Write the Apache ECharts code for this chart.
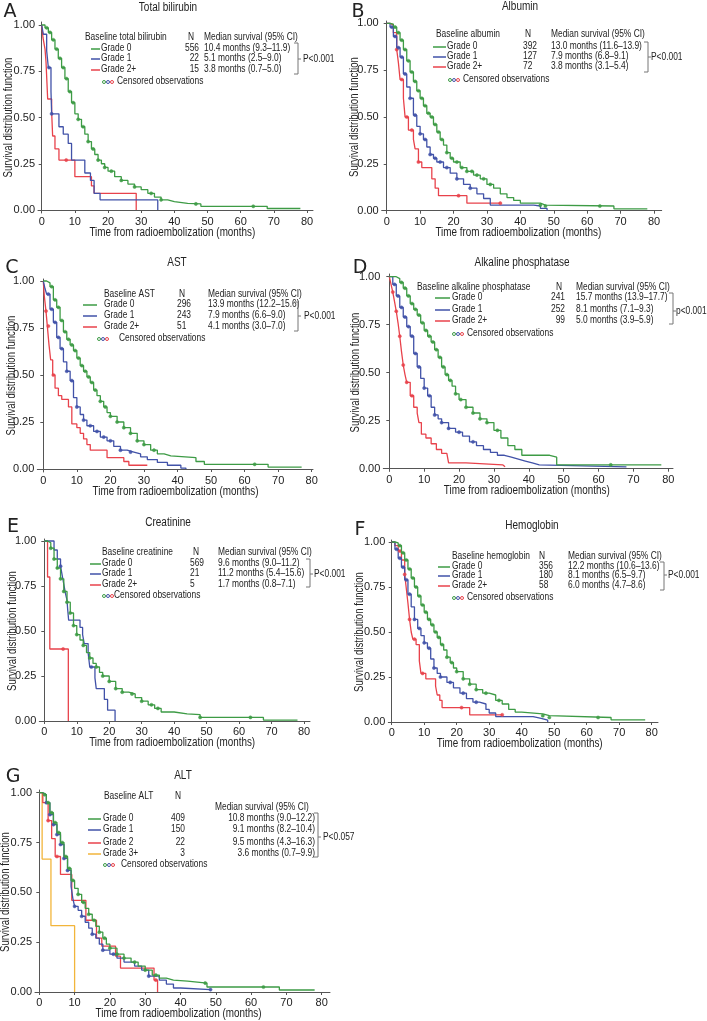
<!DOCTYPE html>
<html>
<head>
    <meta charset="utf-8">
    <title>Survival by baseline lab grade</title>
    <script src="https://cdn.jsdelivr.net/npm/echarts@6/dist/echarts.min.js"></script>
    <style>
        html, body { margin: 0; padding: 0; background: #fff; }
    </style>
</head>
<body>
    <div id="main" style="width: 707px;height:1021px;"></div>
    <script type="text/javascript">
        // 刻度
        var xTicks = [0, 10, 20, 30, 40, 50, 60, 70, 80];
        var yTicks = [0, 0.25, 0.5, 0.75, 1];
        var xName = 'Time from radioembolization (months)';
        var yName = 'Survival distribution function';
        var censorLabel = 'Censored observations';

        // A: Total bilirubin
        var aTitle = 'Total bilirubin';
        var aHeader = ['Baseline total bilirubin', 'N', 'Median survival (95% CI)'];
        var aGrades = ['Grade 0', 'Grade 1', 'Grade 2+'];
        var aN = ['556', '22', '15'];
        var aMedian = ['10.4 months (9.3–11.9)', '5.1 months (2.5–9.0)', '3.8 months (0.7–5.0)'];
        var aP = 'P<0.001';
        var aGrade0 = [[0,1],[1,0.985],[2,0.96],[3,0.92],[4,0.87],[5,0.82],[6,0.77],[7,0.71],[8,0.64],[9,0.58],[10,0.52],[11,0.49],[12,0.45],[13,0.41],[14,0.37],[15,0.33],[16,0.3],[17,0.27],[18,0.25],[19,0.23],[20,0.21],[22,0.18],[24,0.16],[26,0.14],[28,0.125],[30,0.11],[32,0.09],[34,0.07],[36,0.055],[38,0.045],[40,0.036],[44,0.033],[48,0.02],[68,0.008],[78,0.008]];
        var aGrade1 = [[0,1],[0.5,0.95],[1.5,0.86],[2,0.77],[2.8,0.64],[3,0.52],[5.2,0.45],[6.5,0.41],[8,0.36],[9,0.27],[13,0.2],[14.7,0.16],[15.8,0.09],[17.6,0.055],[35,0]];
        var aGrade2 = [[0,1],[0.4,0.93],[1,0.87],[1.3,0.8],[1.8,0.6],[3,0.53],[3.3,0.4],[4,0.33],[5.2,0.27],[10,0.18],[15,0.13],[15.8,0.09],[28.5,0]];
        var aCensor0 = [1.5, 2.5, 3.5, 4.5, 5.5, 6.5, 7.5, 8.5, 9.5, 11, 12.5, 14, 15.5, 17, 19, 21, 24, 28, 33, 36, 46.5, 63.8];
        var aCensor1 = [2.2, 3];
        var aCensor2 = [7.4];

        // B: Albumin
        var bTitle = 'Albumin';
        var bHeader = ['Baseline albumin', 'N', 'Median survival (95% CI)'];
        var bGrades = ['Grade 0', 'Grade 1', 'Grade 2+'];
        var bN = ['392', '127', '72'];
        var bMedian = ['13.0 months (11.6–13.9)', '7.9 months (6.8–9.1)', '3.8 months (3.1–5.4)'];
        var bP = 'P<0.001';
        var bGrade0 = [[0,1],[1,0.995],[2,0.98],[3,0.95],[4,0.91],[5,0.86],[6,0.8],[7,0.74],[8,0.69],[9,0.64],[10,0.6],[11,0.56],[12,0.52],[13,0.5],[14,0.46],[15,0.42],[16,0.38],[17,0.35],[18,0.31],[19,0.28],[20,0.26],[22,0.23],[24,0.21],[26,0.19],[28,0.17],[30,0.14],[32,0.12],[34,0.09],[36,0.07],[38,0.055],[40,0.04],[46,0.03],[47.5,0.025],[68,0.01],[78,0.01]];
        var bGrade1 = [[0,1],[1,0.98],[2,0.93],[3,0.87],[4,0.82],[5,0.73],[6,0.66],[7,0.6],[8,0.51],[9,0.45],[10,0.41],[11,0.38],[12,0.34],[13,0.3],[14,0.28],[15,0.26],[17,0.23],[19,0.2],[21,0.17],[23,0.14],[25,0.12],[27,0.09],[29,0.065],[31,0.03],[44,0.025],[46,0.012],[48,0]];
        var bGrade2 = [[0,1],[1,0.99],[2,0.95],[3,0.86],[3.5,0.79],[4,0.7],[5,0.6],[5.5,0.5],[6.5,0.43],[8,0.38],[8.5,0.33],[9.5,0.26],[10.5,0.23],[13.5,0.17],[14.5,0.12],[15.5,0.08],[24,0.04],[34,0.04]];
        var bCensor0 = [2.5, 3.5, 4.5, 5.5, 6.5, 7.5, 8.5, 9.5, 10.5, 11.5, 12.5, 13.5, 14.5, 15.5, 16.5, 18, 19.5, 21, 22.5, 24, 25.5, 27, 29, 31, 46, 47.5, 63.8];
        var bCensor1 = [1.5, 2.5, 3.5, 4.5, 5.5, 7, 8.5, 10, 11.5, 13, 14.5, 16, 18, 21, 25];
        var bCensor2 = [3, 4.5, 6, 7.5, 9.5, 21.5, 34];

        // C: AST
        var cTitle = 'AST';
        var cHeader = ['Baseline AST', 'N', 'Median survival (95% CI)'];
        var cGrades = ['Grade 0', 'Grade 1', 'Grade 2+'];
        var cN = ['296', '243', '51'];
        var cMedian = ['13.9 months (12.2–15.6)', '7.9 months (6.6–9.0)', '4.1 months (3.0–7.0)'];
        var cP = 'P<0.001';
        var cGrade0 = [[0,1],[1,0.99],[2,0.97],[3,0.9],[4,0.86],[5,0.79],[6,0.73],[7,0.69],[8,0.66],[9,0.63],[10,0.59],[11,0.55],[12,0.52],[13,0.49],[14,0.46],[15,0.42],[16,0.39],[17,0.36],[18,0.33],[19,0.3],[20,0.28],[22,0.25],[24,0.22],[26,0.19],[28,0.15],[30,0.13],[32,0.1],[34,0.08],[36,0.07],[38,0.06],[45.5,0.04],[48,0.025],[67,0.01],[77,0.01]];
        var cGrade1 = [[0,1],[0.5,0.96],[1,0.93],[2,0.85],[3,0.78],[4,0.7],[5,0.64],[6,0.57],[7,0.52],[8,0.47],[9,0.38],[10,0.33],[11,0.29],[12,0.26],[13,0.23],[15,0.2],[17,0.17],[19,0.15],[21,0.12],[23,0.1],[25,0.09],[27,0.08],[29,0.065],[31,0.05],[34,0.035],[37,0.02],[41,0.005],[42.5,0]];
        var cGrade2 = [[0,1],[0.3,0.92],[0.8,0.84],[1.2,0.76],[1.7,0.66],[2.2,0.58],[2.8,0.5],[3.5,0.43],[4.5,0.39],[5.5,0.37],[7.5,0.33],[8.5,0.24],[10,0.22],[11,0.19],[12,0.16],[13,0.13],[14,0.1],[19,0.06],[24,0.04],[25.5,0.02],[31,0.02]];
        var cCensor0 = [2.5, 3.5, 4.5, 5.5, 6.5, 7.5, 8.5, 9.5, 10.5, 11.5, 12.5, 13.5, 14.5, 15.5, 17, 18.5, 20, 22, 24, 26, 28, 30, 33, 63];
        var cCensor1 = [1.5, 2.5, 3.5, 4.5, 5.5, 7, 8.5, 10, 12, 14, 16, 18, 20, 23, 26];
        var cCensor2 = [0.8, 1.5, 3];

        // D: Alkaline phosphatase
        var dTitle = 'Alkaline phosphatase';
        var dHeader = ['Baseline alkaline phosphatase', 'N', 'Median survival (95% CI)'];
        var dGrades = ['Grade 0', 'Grade 1', 'Grade 2+'];
        var dN = ['241', '252', '99'];
        var dMedian = ['15.7 months (13.9–17.7)', '8.1 months (7.1–9.3)', '5.0 months (3.9–5.9)'];
        var dP = 'p<0.001';
        var dGrade0 = [[0,1],[1,1],[2,0.99],[3,0.97],[4,0.94],[5,0.9],[6,0.86],[7,0.83],[8,0.8],[9,0.76],[10,0.72],[11,0.69],[12,0.66],[13,0.62],[14,0.58],[15,0.53],[16,0.49],[17,0.46],[18,0.43],[19,0.39],[20,0.36],[22,0.32],[24,0.29],[26,0.26],[28,0.24],[30,0.2],[32,0.16],[34,0.12],[36,0.1],[38,0.07],[46,0.06],[48,0.02],[78,0.02]];
        var dGrade1 = [[0,1],[1,0.96],[2,0.9],[3,0.84],[4,0.79],[5,0.74],[6,0.69],[7,0.6],[8,0.53],[9,0.47],[10,0.42],[11,0.38],[12,0.32],[13,0.28],[14,0.26],[15,0.24],[17,0.21],[19,0.19],[21,0.17],[23,0.14],[25,0.12],[27,0.1],[29,0.085],[31,0.07],[33,0.06],[35,0.05],[37,0.04],[39,0.03],[41,0.02],[43,0.01],[68,0.01]];
        var dGrade2 = [[0,1],[0.5,0.96],[1,0.92],[1.5,0.87],[2,0.82],[2.5,0.76],[3,0.69],[3.5,0.61],[4,0.54],[4.5,0.49],[5,0.45],[6,0.38],[7,0.32],[8,0.29],[8.5,0.24],[9.2,0.18],[10.5,0.16],[12,0.13],[13.5,0.1],[15,0.08],[16.5,0.07],[17,0.03],[22,0.02],[32.5,0.01],[33.2,0.01]];
        var dCensor0 = [3.5, 4.5, 5.5, 6.5, 7.5, 8.5, 9.5, 10.5, 11.5, 12.5, 13.5, 14.5, 15.5, 16.5, 17.5, 19, 20.5, 22, 24, 26, 28, 31, 63.5];
        var dCensor1 = [1.5, 2.5, 3.5, 4.5, 5.5, 6.5, 7.5, 8.5, 10, 11.5, 13, 15, 17, 20, 24];
        var dCensor2 = [1, 2, 3, 4, 5, 6.5];

        // E: Creatinine
        var eTitle = 'Creatinine';
        var eHeader = ['Baseline creatinine', 'N', 'Median survival (95% CI)'];
        var eGrades = ['Grade 0', 'Grade 1', 'Grade 2+'];
        var eN = ['569', '21', '5'];
        var eMedian = ['9.6 months (9.0–11.2)', '11.2 months (5.4–15.6)', '1.7 months (0.8–7.1)'];
        var eP = 'P<0.001';
        var eGrade0 = [[0,1],[1,0.99],[2,0.96],[3,0.9],[4,0.85],[5,0.79],[6,0.72],[7,0.66],[8,0.6],[9,0.53],[10,0.48],[11,0.45],[12,0.42],[13,0.38],[14,0.35],[15,0.32],[16,0.3],[17,0.27],[18,0.25],[20,0.22],[22,0.18],[24,0.16],[26,0.15],[28,0.13],[30,0.11],[32,0.09],[34,0.07],[36,0.05],[40,0.04],[44,0.035],[48,0.02],[67.5,0.005],[78,0.005]];
        var eGrade1 = [[0,1],[3,0.95],[4,0.9],[5,0.86],[5.5,0.81],[6,0.76],[6.5,0.71],[7,0.67],[7.2,0.62],[7.5,0.56],[11,0.52],[11.8,0.48],[12.3,0.43],[13.5,0.38],[14,0.3],[15.6,0.24],[16,0.18],[18.5,0.12],[19.5,0.06],[21.8,0]];
        var eGrade2 = [[0,1],[1,0.8],[1.7,0.4],[7.4,0]];
        var eCensor0 = [2, 3, 4, 5, 6, 7, 8, 9, 10, 12, 14, 16, 18, 20, 22, 24, 27, 30, 33, 35, 48, 63.5];
        var eCensor1 = [5, 14.5];
        var eCensor2 = [5.8];

        // F: Hemoglobin
        var fTitle = 'Hemoglobin';
        var fHeader = ['Baseline hemoglobin', 'N', 'Median survival (95% CI)'];
        var fGrades = ['Grade 0', 'Grade 1', 'Grade 2+'];
        var fN = ['356', '180', '58'];
        var fMedian = ['12.2 months (10.6–13.6)', '8.1 months (6.5–9.7)', '6.0 months (4.7–8.6)'];
        var fP = 'P<0.001';
        var fGrade0 = [[0,1],[1,0.995],[2,0.98],[3,0.94],[4,0.9],[5,0.85],[6,0.8],[7,0.75],[8,0.7],[9,0.65],[10,0.61],[11,0.57],[12,0.54],[13,0.5],[14,0.47],[15,0.43],[16,0.4],[17,0.36],[18,0.33],[19,0.3],[20,0.28],[22,0.24],[24,0.21],[26,0.18],[28,0.16],[30,0.15],[32,0.12],[34,0.1],[36,0.07],[38,0.055],[40,0.045],[46.5,0.035],[48.5,0.025],[67.5,0.012],[78,0.012]];
        var fGrade1 = [[0,1],[1,0.96],[2,0.91],[3,0.86],[4,0.79],[5,0.71],[6,0.64],[7,0.57],[8,0.52],[9,0.48],[10,0.44],[11,0.41],[12,0.35],[13,0.3],[14,0.27],[15,0.25],[17,0.22],[19,0.19],[21,0.16],[23,0.13],[25,0.11],[27,0.1],[29,0.07],[30,0.05],[32,0.03],[43.5,0.02],[46,0.01],[48,0]];
        var fGrade2 = [[0,1],[1,0.98],[2,0.95],[3,0.9],[4,0.82],[4.5,0.74],[5,0.66],[5.5,0.57],[6,0.5],[6.5,0.46],[7.5,0.43],[8.5,0.34],[9,0.27],[10.5,0.24],[13.5,0.2],[14,0.15],[14.8,0.12],[15.5,0.08],[24,0.04],[34,0.04]];
        var fCensor0 = [2.5, 3.5, 4.5, 5.5, 6.5, 7.5, 8.5, 9.5, 10.5, 11.5, 12.5, 13.5, 14.5, 15.5, 17, 18.5, 20, 22, 24, 26, 29, 33, 46.5, 48.5, 63.5];
        var fCensor1 = [1.5, 2.5, 3.5, 4.5, 5.5, 7, 8.5, 10, 11.5, 13, 15, 18, 22, 26];
        var fCensor2 = [2.5, 4, 5.5, 7, 9.5, 21.5, 34];

        // G: ALT
        var gTitle = 'ALT';
        var gHeader = ['Baseline ALT', 'N', 'Median survival (95% CI)'];
        var gGrades = ['Grade 0', 'Grade 1', 'Grade 2', 'Grade 3+'];
        var gN = ['409', '150', '22', '3'];
        var gMedian = ['10.8 months (9.0–12.2)', '9.1 months (8.2–10.4)', '9.5 months (4.3–16.3)', '3.6 months (0.7–9.9)'];
        var gP = 'P<0.057';
        var gGrade0 = [[0,1],[1,0.99],[2,0.95],[3,0.9],[4,0.85],[5,0.8],[6,0.75],[7,0.68],[8,0.62],[9,0.56],[10,0.52],[11,0.49],[12,0.45],[13,0.42],[14,0.39],[15,0.36],[16,0.33],[17,0.3],[18,0.27],[19,0.24],[20,0.22],[22,0.19],[24,0.17],[26,0.15],[28,0.13],[30,0.11],[32,0.085],[34,0.07],[36,0.06],[38,0.055],[42,0.045],[47.5,0.025],[68,0.01],[78,0.01]];
        var gGrade1 = [[0,1],[1,0.99],[2,0.95],[3,0.89],[4,0.84],[5,0.79],[6,0.74],[7,0.67],[8,0.61],[9,0.53],[9.5,0.47],[10,0.43],[11,0.41],[12,0.38],[13,0.35],[14,0.32],[15,0.29],[16,0.27],[17,0.24],[18,0.21],[20,0.19],[22,0.17],[24,0.15],[27,0.13],[29,0.11],[31,0.08],[34,0.06],[36,0.04],[38,0.02],[40,0.012],[48.5,0.012]];
        var gGrade2 = [[0,1],[1,0.95],[2.5,0.86],[3.5,0.77],[4.5,0.68],[6,0.59],[9.2,0.46],[13.2,0.36],[16.2,0.27],[17.7,0.23],[21.6,0.18],[23,0.12],[32.5,0.06],[33.5,0]];
        var gGrade3 = [[0,1],[0.8,0.667],[3.3,0.333],[10,0]];
        var gCensor0 = [1.5, 2.5, 3.5, 4.5, 5.5, 6.5, 7.5, 8.5, 9.5, 11, 12.5, 14, 15.5, 17, 18.5, 20, 22, 24, 27, 30, 33, 47, 63.5];
        var gCensor1 = [2, 3, 4, 5, 6, 7, 8, 10, 12, 15, 18, 21, 31, 48.5];
        var gCensor2 = [2.5, 5, 33];

        var GREEN = '#3d9b45', BLUE = '#4152a8', RED = '#e8424b', ORANGE = '#f2b53b';
        var FONT = '"Liberation Sans", Arial, sans-serif';
        var TXT = '#222';
        var NARROW = 0.8;   // 原图字体较窄

        // 每个面板的像素布局
        var panels = [
            { letter: 'A', lx: 10, ly: 12, title: aTitle, tx: 168, ty: 8,
              px: { x0: 41.7, x80: 307, y1: 25, y0: 210, left: 38, right: 313, top: 22, bottom: 213 }, ynx: 9,
              curves: [[aGrade0, aCensor0, GREEN], [aGrade1, aCensor1, BLUE], [aGrade2, aCensor2, RED]],
              header: aHeader, grades: aGrades, n: aN, median: aMedian, p: aP,
              lg: { hx: 85, hy: 37, nx: 191, nAlign: 'right', nvx: 199, mx: 204, mhx: 204, mhy: 37, mAlign: 'left', rows: [48, 58, 69],
                    l1: 91, l2: 100, gx: 101, bx: 298, bt: 43, bb: 74, ptx: 302, pty: 59, cx: 104, cy: 81, ctx: 117 } },
            { letter: 'B', lx: 358, ly: 12, title: bTitle, tx: 520, ty: 7,
              px: { x0: 386.7, x80: 654, y1: 23.3, y0: 210.7, left: 381.7, right: 661.7, top: 21, bottom: 213 }, ynx: 355,
              curves: [[bGrade0, bCensor0, GREEN], [bGrade1, bCensor1, BLUE], [bGrade2, bCensor2, RED]],
              header: bHeader, grades: bGrades, n: bN, median: bMedian, p: bP,
              lg: { hx: 436, hy: 34, nx: 528, nAlign: 'left', nvx: 523, mx: 551, mhx: 551, mhy: 34, mAlign: 'left', rows: [46, 56, 66],
                    l1: 433, l2: 446, gx: 447, bx: 648, bt: 42, bb: 72, ptx: 650, pty: 57, cx: 450, cy: 79, ctx: 463 } },
            { letter: 'C', lx: 12, ly: 268, title: cTitle, tx: 177, ty: 263,
              px: { x0: 43.3, x80: 311.7, y1: 281, y0: 469, left: 37.3, right: 313, top: 279, bottom: 472 }, ynx: 12,
              curves: [[cGrade0, cCensor0, GREEN], [cGrade1, cCensor1, BLUE], [cGrade2, cCensor2, RED]],
              header: cHeader, grades: cGrades, n: cN, median: cMedian, p: cP,
              lg: { hx: 104, hy: 294, nx: 182, nAlign: 'left', nvx: 177, mx: 208, mhx: 208, mhy: 294, mAlign: 'left', rows: [304, 315, 326],
                    l1: 83, l2: 97, gx: 104, bx: 298, bt: 302, bb: 331, ptx: 303, pty: 316, cx: 99, cy: 338, ctx: 119 } },
            { letter: 'D', lx: 360, ly: 268, title: dTitle, tx: 522, ty: 263,
              px: { x0: 389.3, x80: 668.3, y1: 276.7, y0: 468.7, left: 383.3, right: 673, top: 274, bottom: 471 }, ynx: 356,
              curves: [[dGrade0, dCensor0, GREEN], [dGrade1, dCensor1, BLUE], [dGrade2, dCensor2, RED]],
              header: dHeader, grades: dGrades, n: dN, median: dMedian, p: dP,
              lg: { hx: 417, hy: 287, nx: 559, nAlign: 'right', nvx: 565, mx: 576, mhx: 576, mhy: 287, mAlign: 'left', rows: [297, 309, 320],
                    l1: 435, l2: 450, gx: 452, bx: 673, bt: 293, bb: 324, ptx: 675, pty: 311, cx: 454, cy: 333, ctx: 467 } },
            { letter: 'E', lx: 13, ly: 527, title: eTitle, tx: 168, ty: 523,
              px: { x0: 44.3, x80: 304, y1: 541, y0: 721, left: 39.3, right: 310, top: 539, bottom: 723 }, ynx: 13,
              curves: [[eGrade0, eCensor0, GREEN], [eGrade1, eCensor1, BLUE], [eGrade2, eCensor2, RED]],
              header: eHeader, grades: eGrades, n: eN, median: eMedian, p: eP,
              lg: { hx: 102, hy: 552, nx: 196, nAlign: 'left', nvx: 190, mx: 218, mhx: 218, mhy: 552, mAlign: 'left', rows: [563, 573, 584],
                    l1: 90, l2: 101, gx: 102, bx: 310, bt: 559, bb: 587, ptx: 313, pty: 574, cx: 104, cy: 595, ctx: 114 } },
            { letter: 'F', lx: 360, ly: 530, title: fTitle, tx: 532, ty: 526,
              px: { x0: 391.7, x80: 651.7, y1: 542, y0: 722, left: 388.3, right: 658, top: 540, bottom: 724 }, ynx: 360,
              curves: [[fGrade0, fCensor0, GREEN], [fGrade1, fCensor1, BLUE], [fGrade2, fCensor2, RED]],
              header: fHeader, grades: fGrades, n: fN, median: fMedian, p: fP,
              lg: { hx: 452, hy: 556, nx: 542, nAlign: 'left', nvx: 539, mx: 568, mhx: 568, mhy: 556, mAlign: 'left', rows: [566, 575, 585],
                    l1: 438, l2: 450, gx: 452, bx: 664, bt: 562, bb: 590, ptx: 667, pty: 575, cx: 454, cy: 597, ctx: 467 } },
            { letter: 'G', lx: 13, ly: 777, title: gTitle, tx: 183, ty: 776,
              px: { x0: 39.3, x80: 321.7, y1: 792.7, y0: 992, left: 35, right: 330, top: 790, bottom: 994 }, ynx: 6,
              curves: [[gGrade0, gCensor0, GREEN], [gGrade1, gCensor1, BLUE], [gGrade2, gCensor2, RED], [gGrade3, [], ORANGE]],
              header: gHeader, grades: gGrades, n: gN, median: gMedian, p: gP,
              lg: { hx: 104, hy: 796, nx: 178, nAlign: 'right', nvx: 185, mx: 315, mhx: 215, mhy: 807, mAlign: 'right', rows: [818, 829, 842, 853],
                    l1: 88, l2: 101, gx: 103, bx: 318, bt: 813, bb: 857, ptx: 322, pty: 837, cx: 105, cy: 864, ctx: 121 } }
        ];

        // 在阶梯曲线上找出删失时间对应的生存率
        function survAt(curve, t) {
            var s = curve[0][1];
            for (var i = 0; i < curve.length; i++) {
                if (curve[i][0] <= t) s = curve[i][1];
            }
            return s;
        }

        // 文字：元素放在 (x, y)，横向压缩以接近原图的窄字体
        function txt(text, x, y, size, align, opts) {
            opts = opts || {};
            return {
                type: 'text', silent: true, x: x, y: y,
                rotation: opts.rotation || 0,
                scaleX: opts.scaleX == null ? NARROW : opts.scaleX,
                style: { text: text, x: 0, y: 0, font: opts.font || (size + 'px ' + FONT), fill: TXT,
                         align: align || 'left', verticalAlign: 'middle',
                         textAlign: align || 'left', textVerticalAlign: 'middle' }
            };
        }

        var grids = [], xAxes = [], yAxes = [], series = [], graphics = [];

        panels.forEach(function (p, idx) {
            var q = p.px;
            var sx = (q.x80 - q.x0) / 80;
            var sy = q.y0 - q.y1;
            grids.push({ left: q.left, top: q.top, width: q.right - q.left, height: q.bottom - q.top });
            xAxes.push({
                type: 'value', gridIndex: idx,
                min: (q.left - q.x0) / sx, max: (q.right - q.x0) / sx,
                axisLine: { lineStyle: { color: '#555', width: 1 } },
                axisTick: { length: 3, lineStyle: { color: '#555' }, customValues: xTicks },
                axisLabel: { customValues: xTicks, fontFamily: FONT, fontSize: 11, color: TXT, margin: 3 },
                splitLine: { show: false }
            });
            yAxes.push({
                type: 'value', gridIndex: idx,
                min: -(q.bottom - q.y0) / sy, max: 1 + (q.y1 - q.top) / sy,
                axisLine: { lineStyle: { color: '#555', width: 1 } },
                axisTick: { length: 3, lineStyle: { color: '#555' }, customValues: yTicks },
                axisLabel: { customValues: yTicks, fontFamily: FONT, fontSize: 11, color: TXT, margin: 3,
                             formatter: function (v) { return v.toFixed(2); } },
                splitLine: { show: false }
            });
            // 绿色曲线画在最上层
            for (var c = p.curves.length - 1; c >= 0; c--) {
                var cv = p.curves[c];
                series.push({
                    type: 'line', xAxisIndex: idx, yAxisIndex: idx, step: 'end',
                    showSymbol: false, data: cv[0], animation: false,
                    lineStyle: { color: cv[2], width: 1.3 }, z: 3 + (p.curves.length - c)
                });
                series.push({
                    type: 'scatter', xAxisIndex: idx, yAxisIndex: idx, animation: false,
                    symbol: 'circle', symbolSize: 3.2,
                    itemStyle: { color: cv[2], borderColor: cv[2], borderWidth: 0.5, opacity: 0.9 },
                    data: cv[1].map(function (t) { return [t, survAt(cv[0], t)]; }),
                    z: 4 + (p.curves.length - c)
                });
            }

            // 面板字母、标题、坐标轴名称
            graphics.push(txt(p.letter, p.lx, p.ly, 19, 'center', { font: '19px "DejaVu Sans", sans-serif', scaleX: 1 }));
            graphics.push(txt(p.title, p.tx, p.ty, 12.5, 'center'));
            graphics.push(txt(xName, (q.x0 + q.x80) / 2 - 2, q.bottom + 20, 12.5, 'center', { scaleX: 0.79 }));
            graphics.push(txt(yName, p.ynx, (q.top + q.bottom) / 2, 12.5, 'center', { rotation: Math.PI / 2, scaleX: 0.77 }));

            // 图例表格
            var lg = p.lg, FS = 10.5;
            graphics.push(txt(p.header[0], lg.hx, lg.hy, FS, 'left'));
            graphics.push(txt(p.header[1], lg.nx, lg.hy, FS, 'center'));
            graphics.push(txt(p.header[2], lg.mhx, lg.mhy, FS, 'left'));
            p.grades.forEach(function (g, i) {
                var y = lg.rows[i];
                graphics.push({ type: 'line', silent: true,
                    shape: { x1: lg.l1, y1: y + 1, x2: lg.l2, y2: y + 1 },
                    style: { stroke: p.curves[i][2], lineWidth: 1.5 } });
                graphics.push(txt(g, lg.gx, y, FS, 'left'));
                graphics.push(txt(p.n[i], lg.nvx, y, FS, lg.nAlign === 'right' ? 'right' : 'left'));
                graphics.push(txt(p.median[i], lg.mx, y, FS, lg.mAlign));
            });
            // 括号与 P 值
            graphics.push({ type: 'polyline', silent: true,
                shape: { points: [[lg.bx - 4, lg.bt], [lg.bx, lg.bt], [lg.bx, lg.bb], [lg.bx - 4, lg.bb]] },
                style: { stroke: '#777', lineWidth: 1, fill: null } });
            graphics.push({ type: 'line', silent: true,
                shape: { x1: lg.bx, y1: lg.pty, x2: lg.bx + 3, y2: lg.pty },
                style: { stroke: '#777', lineWidth: 1 } });
            graphics.push(txt(p.p, lg.ptx + 1, lg.pty, FS, 'left'));
            // 删失标记说明
            [GREEN, BLUE, RED].forEach(function (col, i) {
                graphics.push({ type: 'circle', silent: true,
                    shape: { cx: lg.cx + i * 4, cy: lg.cy + 1, r: 1.5 },
                    style: { fill: '#fff', stroke: col, lineWidth: 1 } });
            });
            graphics.push(txt(censorLabel, lg.ctx, lg.cy, FS, 'left'));
        });

        var myChart = echarts.init(document.getElementById('main'));
        myChart.setOption({
            animation: false,
            backgroundColor: '#fff',
            grid: grids,
            xAxis: xAxes,
            yAxis: yAxes,
            series: series,
            graphic: { elements: graphics }
        });
    </script>
</body>
</html>
